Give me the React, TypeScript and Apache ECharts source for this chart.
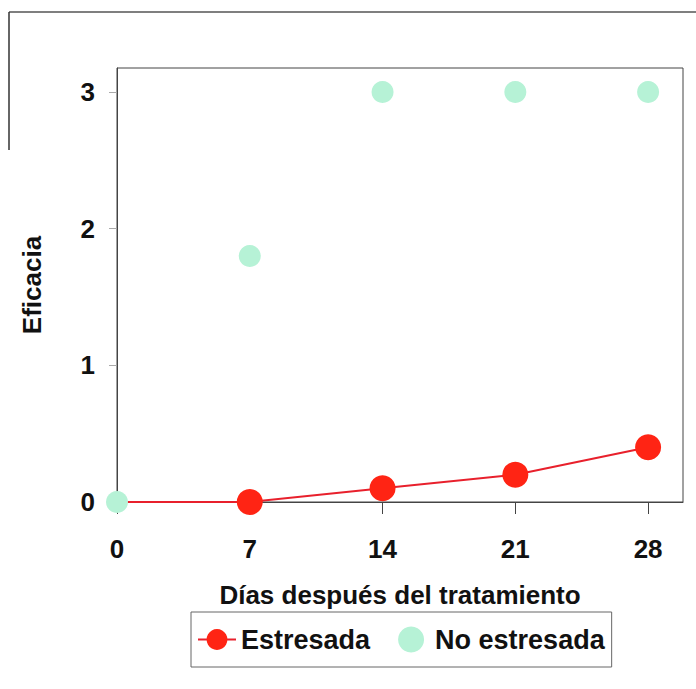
import React, { useEffect, useRef } from "react";
import * as echarts from "echarts";

const days = [0, 7, 14, 21, 28];
const estresada = [0, 0, 0.1, 0.2, 0.4];
const noEstresada = [0, 1.8, 3, 3, 3];
const xTicks = [0, 7, 14, 21, 28];
const yTicks = [0, 1, 2, 3];

const FONT = "'Liberation Sans', Arial, sans-serif";

export default function App() {
  const ref = useRef<HTMLDivElement>(null);
  useEffect(() => {
    if (!ref.current) return;
    const chart = echarts.init(ref.current, null, { renderer: "svg" });
    chart.setOption({
      animation: false,
      backgroundColor: "#ffffff",
      textStyle: { fontFamily: FONT },
      grid: {
        left: 117,
        right: 13,
        top: 68,
        bottom: 187,
        show: true,
        borderColor: "#444",
        borderWidth: 1,
      },
      xAxis: {
        type: "value",
        min: 0,
        max: 29.84,
        interval: 7,
        name: "Días después del tratamiento",
        nameLocation: "middle",
        nameGap: 80,
        nameTextStyle: { fontFamily: FONT, fontWeight: "bold", fontSize: 26, color: "#111" },
        axisLine: { show: true, lineStyle: { color: "#444" } },
        axisTick: { show: true, length: 12, customValues: xTicks, lineStyle: { color: "#444" } },
        axisLabel: {
          fontFamily: FONT,
          fontWeight: "bold",
          fontSize: 26,
          color: "#111",
          margin: 34,
          customValues: xTicks,
        },
        splitLine: { show: false },
      },
      yAxis: {
        type: "value",
        min: 0,
        max: 3.175,
        interval: 1,
        name: "Eficacia",
        nameLocation: "middle",
        nameGap: 72,
        nameTextStyle: { fontFamily: FONT, fontWeight: "bold", fontSize: 26, color: "#111" },
        axisLine: { show: true, lineStyle: { color: "#444" } },
        axisTick: { show: true, length: 8, customValues: yTicks, lineStyle: { color: "#aaa" } },
        axisLabel: {
          fontFamily: FONT,
          fontWeight: "bold",
          fontSize: 26,
          color: "#111",
          margin: 22,
          customValues: yTicks,
        },
        splitLine: { show: false },
      },
      legend: {
        left: 191,
        top: 612,
        padding: [14, 7, 14, 6],
        borderColor: "#666",
        borderWidth: 1,
        itemGap: 28,
        itemWidth: 38,
        itemHeight: 26,
        textStyle: { fontFamily: FONT, fontWeight: "bold", fontSize: 27, color: "#111" },
        data: [{ name: "Estresada" }, { name: "No estresada" }],
      },
      graphic: [
        { type: "line", shape: { x1: 9, y1: 12, x2: 696, y2: 12 }, style: { stroke: "#555", lineWidth: 1.5 } },
        { type: "line", shape: { x1: 9, y1: 12, x2: 9, y2: 150 }, style: { stroke: "#333", lineWidth: 1.5 } },
      ],
      series: [
        {
          name: "No estresada",
          type: "scatter",
          data: days.map((d, i) => [d, noEstresada[i]]),
          symbol: "circle",
          symbolSize: 22,
          itemStyle: { color: "#b6f2d6", opacity: 1 },
          z: 3,
        },
        {
          name: "Estresada",
          type: "line",
          data: days.map((d, i) =>
            i === 0 ? { value: [d, estresada[i]], symbol: "none" } : [d, estresada[i]]
          ),
          symbol: "circle",
          symbolSize: 26,
          lineStyle: { color: "#e8202c", width: 2 },
          itemStyle: { color: "#ff2414" },
          z: 2,
        },
      ],
    });
    return () => chart.dispose();
  }, []);
  return (
    <div
      ref={ref}
      style={{ position: "absolute", left: 0, top: 0, width: 696, height: 689 }}
    />
  );
}
